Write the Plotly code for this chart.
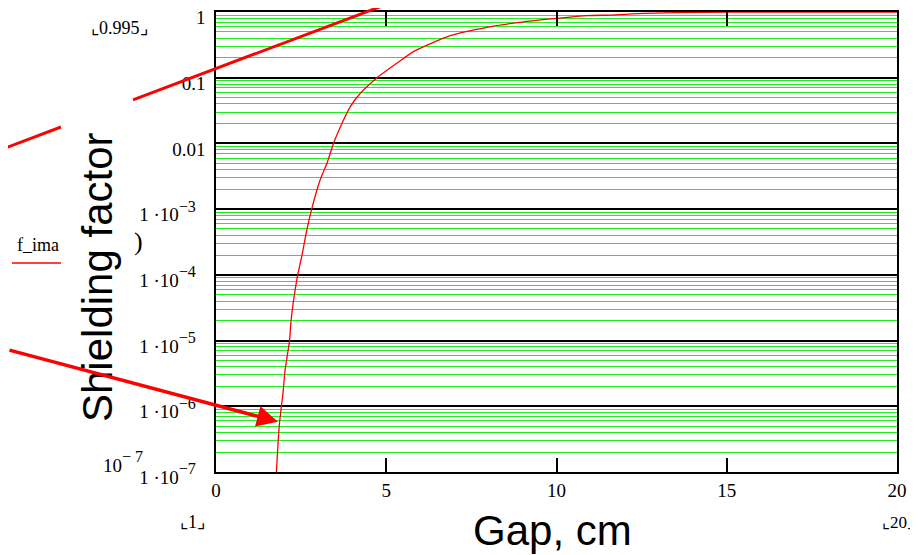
import plotly.graph_objects as go

# ---- data ----
gap_cm = [1.77, 1.85, 1.92, 1.96, 2.03, 2.16, 2.20, 2.27, 2.40, 2.52, 2.67, 2.81, 3.06,
          3.26, 3.45, 3.60, 3.94, 4.24, 4.73, 5.31, 5.80, 6.88, 7.96, 9.04, 10.0, 10.9,
          11.6, 12.6, 14.3, 16.0, 18.0, 20.0]
shielding = [9e-8, 4.5e-7, 1e-6, 1.45e-6, 3.6e-6, 1e-5, 1.9e-5, 3.8e-5, 1e-4, 1.93e-4,
             4.9e-4, 1e-3, 2.8e-3, 5.0e-3, 0.01, 0.0155, 0.036, 0.058, 0.1, 0.166, 0.25,
             0.436, 0.586, 0.71, 0.80, 0.88, 0.90, 0.955, 0.99, 0.995, 0.998, 1.0]

y_tickvals = [1, 0.1, 0.01, 1e-3, 1e-4, 1e-5, 1e-6, 1e-7]
y_plain = ["1", "0.1", "0.01"]
y_exponents = ["3", "4", "5", "6", "7"]
x_tickvals = [0, 5, 10, 15, 20]
minor_vals = [k * 10.0 ** d for d in range(-7, 0) for k in range(2, 10)]

BASE = "<span style='font-size:19px'>{}</span>"


def sci_label(e):
    return BASE.format("1 ·10") + "<sup>−" + e + "</sup>" + BASE.format("&nbsp;&nbsp;")


y_ticktext = [BASE.format(s) for s in y_plain] + [sci_label(e) for e in y_exponents]

# ---- layout geometry (pixels in the 918x555 page) ----
OFF = 8                      # default page body margin
W_FIG, H_FIG = 918 - OFF, 555 - OFF
L, R, T, B = 216, 897, 12, 472
PW, PH = R - L, B - T


def px(x):
    return (x - L) / PW


def py(y):
    return (B - y) / PH


SERIF = "Liberation Serif, Times New Roman, serif"
SANS = "Liberation Sans, Arial, sans-serif"

fig = go.Figure()
fig.add_trace(go.Scatter(x=gap_cm, y=shielding, mode="lines",
                         line=dict(color="#ff0000", width=1.3, shape="spline",
                                   smoothing=0.6),
                         showlegend=False))

fig.update_layout(
    width=W_FIG, height=H_FIG,
    margin=dict(l=L - OFF, r=W_FIG - (R - OFF), t=T - OFF, b=H_FIG - (B - OFF),
                autoexpand=False),
    paper_bgcolor="white", plot_bgcolor="white",
    xaxis=dict(range=[0, 20], tickvals=x_tickvals, ticks="inside", ticklen=14,
               tickwidth=1.5, tickcolor="black", showgrid=False, zeroline=False,
               showline=True, linecolor="black", linewidth=2, mirror="ticks",
               ticklabelstandoff=0,
               tickfont=dict(family=SERIF, size=19, color="black")),
    yaxis=dict(type="log", range=[-7.0004, 0.0004], tickvals=y_tickvals,
               ticktext=y_ticktext, ticklabeloverflow="allow",
               ticks="", showgrid=True, gridcolor="black", gridwidth=1.5,
               zeroline=False, showline=True, linecolor="black", linewidth=2,
               mirror=True, ticklabelstandoff=4, ticklabelshift=4,
               tickfont=dict(family=SERIF, size=23, color="black"),
               minor=dict(tickvals=minor_vals, showgrid=True, gridcolor="#22ee22",
                          gridwidth=1, ticks="")),
)

shapes = [
    dict(type="line", xref="paper", yref="paper", x0=px(0), y0=py(150), x1=px(61), y1=py(127),
         line=dict(color="#ff0000", width=3)),
    dict(type="line", xref="paper", yref="paper", x0=px(133), y0=py(99.8), x1=px(398), y1=py(0),
         line=dict(color="#ff0000", width=3)),
    dict(type="line", xref="paper", yref="paper", x0=px(12), y0=py(263), x1=px(61), y1=py(263),
         line=dict(color="#ff0000", width=1.3)),
]
fig.update_layout(shapes=shapes)

ann = []


def text(x, y, s, size, family=SERIF, xanchor="center", angle=0):
    ann.append(dict(xref="paper", yref="paper", x=px(x), y=py(y), text=s, showarrow=False,
                    xanchor=xanchor, yanchor="middle", textangle=angle,
                    font=dict(family=family, size=size, color="black")))


text(120, 28, "⌞0.995⌟", 18)
text(38, 245, "f_ima", 18)
text(138, 241, ")", 26)
text(123, 462, "<span style='font-size:19px'>10</span><sup>− 7</sup>", 23)
text(192, 522, "⌞1⌟", 18)
text(917, 522, "⌞20⌟", 17, xanchor="right")
text(97, 277, "Shielding factor", 42, family=SANS, angle=-90)
text(552, 530, "Gap, cm", 42, family=SANS)

ann.append(dict(xref="paper", yref="paper", x=px(278), y=py(421.7), text="",
                showarrow=True, arrowhead=2, arrowsize=1.2, arrowwidth=3.5,
                arrowcolor="#ff0000", ax=-278, ay=-72, standoff=0))
fig.update_layout(annotations=ann)

fig.write_html("out.html")
